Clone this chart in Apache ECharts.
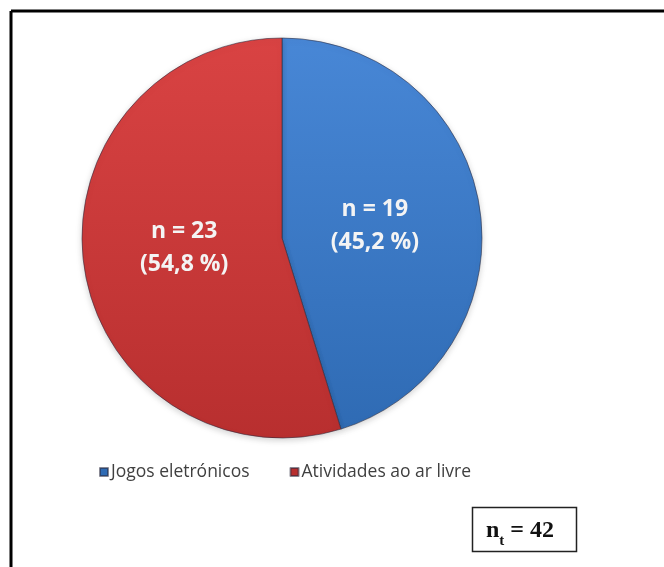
<!DOCTYPE html>
<html>
<head>
<meta charset="utf-8">
<script src="https://cdn.jsdelivr.net/npm/echarts@6/dist/echarts.min.js"></script>
<style>
  html, body { margin: 0; padding: 0; background: #fff; }
  #chart { width: 664px; height: 567px; }
</style>
</head>
<body>
<div id="chart"></div>
<script>
// Categories and counts
const categories = ['Jogos eletrónicos', 'Atividades ao ar livre'];
const counts = [19, 23];
const percentLabels = ['45,2 %', '54,8 %'];
const totalLabel = '42';

const baseColors = [
  { top: '#4887D6', bottom: '#2F6BB4' },
  { top: '#D94343', bottom: '#B82F2F' }
];
// small nudges so each slice label sits where it reads best
const labelOffsets = [[-9, 3], [4, -5]];

const chart = echarts.init(document.getElementById('chart'), null, { renderer: 'canvas' });

const pieData = categories.map((name, i) => ({
  name: name,
  value: counts[i],
  pct: percentLabels[i],
  label: { offset: labelOffsets[i] },
  itemStyle: {
    color: new echarts.graphic.LinearGradient(0, 0, 0, 1, [
      { offset: 0, color: baseColors[i].top },
      { offset: 1, color: baseColors[i].bottom }
    ])
  }
}));

chart.setOption({
  backgroundColor: '#ffffff',
  animation: false,
  legend: {
    top: 458,
    left: 94,
    itemWidth: 8,
    itemHeight: 8,
    itemGap: 40,
    icon: 'rect',
    data: categories.map((n, i) => ({ name: n, itemStyle: { color: baseColors[i].bottom } })),
    textStyle: { fontFamily: 'Open Sans', fontSize: 17.5, color: '#404040', padding: [0, 0, 0, -2] }
  },
  series: [{
    type: 'pie',
    center: [282, 238],
    radius: [0, 200],
    startAngle: 90,
    clockwise: true,
    data: pieData,
    itemStyle: {
      borderColor: 'rgba(40,40,60,0.55)',
      borderWidth: 1,
      shadowColor: 'rgba(0,0,0,0.18)',
      shadowBlur: 6,
      shadowOffsetY: 2
    },
    label: {
      position: 'inside',
      formatter: p => 'n = ' + p.value + '\n(' + p.data.pct + ')',
      color: '#F4F4F4',
      fontFamily: 'Open Sans',
      fontWeight: 'bold',
      fontSize: 23,
      lineHeight: 33
    },
    labelLine: { show: false },
    emphasis: { disabled: true }
  }],
  graphic: [
    // outer frame (left and top edges visible)
    { type: 'line', shape: { x1: 11, y1: 11, x2: 664, y2: 11 }, style: { stroke: '#000', lineWidth: 3 } },
    { type: 'line', shape: { x1: 11, y1: 11, x2: 11, y2: 567 }, style: { stroke: '#000', lineWidth: 3 } },
    // total box
    {
      type: 'rect',
      shape: { x: 472.5, y: 507.5, width: 104, height: 44 },
      style: { fill: '#fff', stroke: '#222', lineWidth: 1.5 }
    },
    {
      type: 'text',
      x: 520,
      y: 531,
      style: {
        text: '{n|n}{sub|t}{n| = ' + totalLabel + '}',
        align: 'center',
        verticalAlign: 'middle',
        rich: {
          n: { fontFamily: 'Liberation Serif', fontWeight: 'bold', fontSize: 24, fill: '#111', verticalAlign: 'bottom' },
          sub: { fontFamily: 'Liberation Serif', fontWeight: 'bold', fontSize: 15, fill: '#111', verticalAlign: 'bottom', padding: [0, 0, -6, 0] }
        }
      }
    }
  ]
});
</script>
</body>
</html>
